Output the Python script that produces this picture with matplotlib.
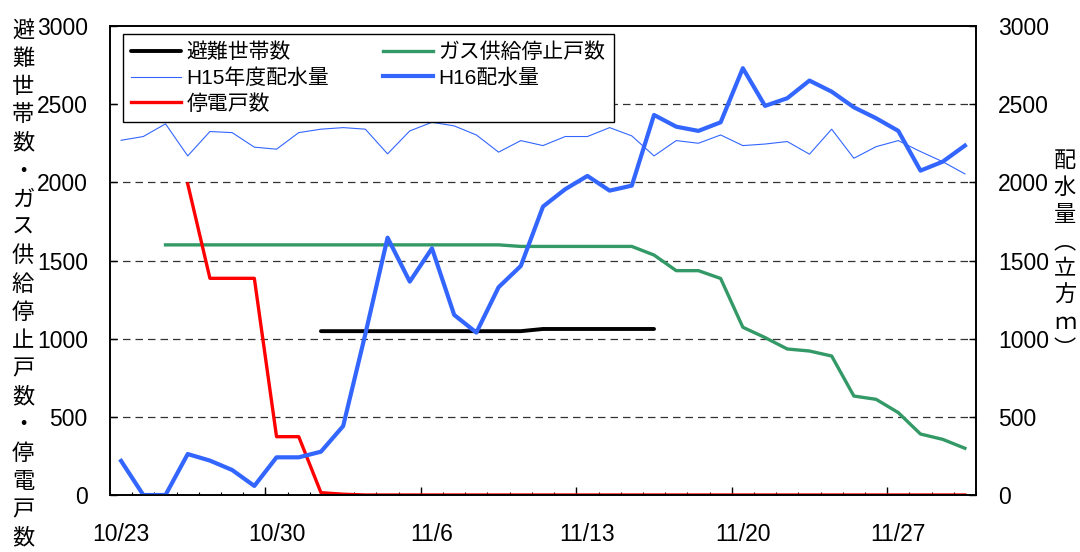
import numpy as np
import matplotlib
matplotlib.use("Agg")
from matplotlib import pyplot as plt

plt.rcParams['font.family'] = ['Liberation Sans', 'Noto Sans CJK JP', 'DejaVu Sans']

# 10/23 .. 11/30 (39 days)
n_days = 39
tick_labels = ['10/23', '10/30', '11/6', '11/13', '11/20', '11/27']

nan = np.nan
hinan = [nan] * 9 + [1048, 1048, 1048, 1048, 1048, 1048, 1048, 1048, 1048, 1048,
                     1062, 1062, 1062, 1062, 1062, 1062] + [nan] * 14
gas = [nan, nan, 1600, 1600, 1600, 1600, 1600, 1600, 1600, 1600, 1600, 1600, 1600,
       1600, 1600, 1600, 1600, 1600, 1590, 1590, 1590, 1590, 1590, 1590, 1535, 1435,
       1435, 1385, 1073, 1007, 934, 921, 889, 633, 612, 527, 390, 356, 299]
teiden = [nan, nan, nan, 1990, 1386, 1386, 1386, 373, 373, 15, 5, 0, 0, 0, 0, 0, 0,
          0, 0, 0, 0, 0, 0, 0, 0, 0, 0, 0, 0, 0, 0, 0, 0, 0, 0, 0, 0, 0, 0]
h15 = [2269, 2293, 2374, 2169, 2325, 2318, 2225, 2212, 2318, 2340, 2350, 2340, 2182,
       2329, 2384, 2361, 2303, 2193, 2267, 2235, 2293, 2293, 2350, 2297, 2169, 2267,
       2250, 2303, 2235, 2245, 2261, 2180, 2340, 2154, 2228, 2267, 2197, 2132, 2054]
h16 = [218, 0, 0, 262, 220, 160, 58, 241, 241, 277, 441, 1030, 1646, 1365, 1578, 1152,
       1039, 1329, 1465, 1845, 1956, 2041, 1947, 1979, 2431, 2356, 2329, 2384, 2730,
       2489, 2538, 2651, 2580, 2480, 2410, 2329, 2075, 2132, 2235]

x = np.arange(n_days)

fig = plt.figure(figsize=(10.8, 5.52), dpi=100)
ax = fig.add_axes([110 / 1080, 1 - 495 / 552, 866 / 1080, 469 / 552])
ax2 = ax.twinx()

blue = '#3366FF'
l1, = ax.plot(x, hinan, color='black', lw=2.8, solid_capstyle='round', label='避難世帯数')
l4, = ax.plot(x, gas, color='#339966', lw=2.4, label='ガス供給停止戸数')
l3, = ax.plot(x, teiden, color='#FF0000', lw=2.4, label='停電戸数')
l2, = ax2.plot(x, h15, color=blue, lw=0.8, label='H15年度配水量')
l5, = ax2.plot(x, h16, color=blue, lw=3.0, label='H16配水量')

for a in (ax, ax2):
    a.set_ylim(0, 3000)
    a.set_yticks(np.arange(0, 3001, 500))
    a.tick_params(axis='y', direction='in', length=5, width=1, labelsize=16.5, pad=16)
ax.set_xlim(-0.5, n_days - 0.5)

for v in range(500, 3000, 500):
    ax.axhline(v, color='#333333', lw=0.9, ls=(0, (6, 4)), zorder=0)

# labels centred on the category, tick marks between categories
ax.set_xticks(np.arange(0, n_days, 7), tick_labels)
ax.set_xticks(np.arange(-0.5, n_days, 1), minor=True)
ax.tick_params(axis='x', which='major', length=0, labelsize=16.5, pad=20)
ax.tick_params(axis='x', which='minor', direction='in', length=2.5, width=0.8)
sec = ax.secondary_xaxis('bottom')
sec.set_xticks(np.arange(6.5, n_days, 7), [''] * 5)
sec.tick_params(direction='in', length=6, width=1)
sec.spines['bottom'].set_visible(False)

for a in (ax, ax2):
    for s in a.spines.values():
        s.set_linewidth(1.2)

leg = ax.legend(handles=[l1, l2, l3, l4, l5], ncol=2, loc='upper left',
                bbox_to_anchor=(0.015, 0.983), borderaxespad=0, fontsize=15,
                frameon=True, fancybox=False, framealpha=1, edgecolor='black',
                handlelength=2.4, handletextpad=0.25, columnspacing=2.6,
                labelspacing=0.3, borderpad=0.4)
leg.get_frame().set_linewidth(1.0)
leg.remove()
ax2.add_artist(leg)

left_label = '避難世帯数・ガス供給停止戸数・停電戸数'
fig.text(23 / 1080, 1 - 285 / 552, '\n'.join(left_label), ha='center', va='center',
         fontsize=16, linespacing=1.45)
right_label = ['配', '水', '量', '︵', '立', '方', 'ｍ', '︶']
fig.text(1065 / 1080, 1 - 256 / 552, '\n'.join(right_label), ha='center', va='center',
         fontsize=16, linespacing=1.37)

fig.savefig('out.png', dpi=100)
